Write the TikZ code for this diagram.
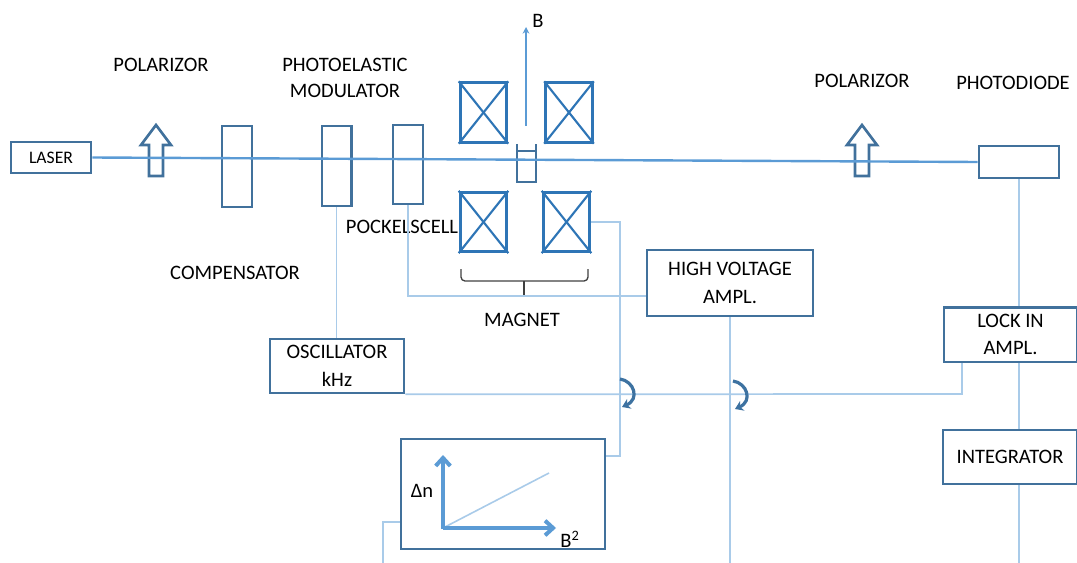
\documentclass[tikz,border=0pt]{standalone}
\usepackage{fontspec}
\setmainfont{Carlito}
\usepackage{tikz}
\usetikzlibrary{arrows.meta}

\definecolor{boxblue}{HTML}{41719C}
\definecolor{coilblue}{HTML}{2E75B6}
\definecolor{beamblue}{HTML}{5B9BD5}
\definecolor{wireblue}{HTML}{A9CBE9}

\tikzset{
    polarizor/.pic={
        \draw [boxblue,line width=2pt,line join=miter]
            (-7,51) -- (-7,20) -- (-15,20) -- (0,0) -- (15,20) -- (7,20) -- (7,51) -- cycle;
    },
    swap_hook/.pic={
        \draw [-{Stealth[length=6pt,width=8pt]},boxblue!80!coilblue,line width=2.4pt]
            (0,0) .. controls (14,2) and (20,20) .. (2,28);
    }
}

\begin{document}
\begin{tikzpicture}[x=0.75pt,y=-0.75pt]
\useasboundingbox (0,0) rectangle (1077,563);
\begin{scope}[every node/.style={rectangle,draw=boxblue,line width=2pt,inner sep=0pt,text=black,font=\fontsize{15.4pt}{20.5pt}\selectfont,align=center}]
    \node [minimum width=60pt,minimum height=23pt,font=\fontsize{13.2pt}{15pt}\selectfont] (laser) at (51,157.5) {LASER};
    \node [minimum width=22.5pt,minimum height=60.5pt] (compensator) at (237,166.5) {};
    \node [minimum width=22pt,minimum height=60pt] (pem) at (336.5,166) {};
    \node [minimum width=22.5pt,minimum height=59pt] (pockels) at (408,164.5) {};
    \node [minimum width=60pt,minimum height=24pt] (diode) at (1019,162) {};
    \node [minimum width=124.5pt,minimum height=49.5pt] (hv) at (730,283) {HIGH VOLTAGE\\AMPL.};
    \node [minimum width=100pt,minimum height=41pt] (lockin) at (1010.5,334.5) {LOCK IN\\AMPL.};
    \node [minimum width=100.5pt,minimum height=40.5pt] (integrator) at (1010,457) {INTEGRATOR};
    \node [minimum width=100.5pt,minimum height=40.5pt] (oscillator) at (337,366) {OSCILLATOR\\kHz};
    \node [minimum width=153pt,minimum height=82.5pt] (plot) at (503,494) {};
\end{scope}
\begin{scope}[every node/.style={rectangle,draw=coilblue,line width=2.2pt,inner sep=0pt,minimum width=35pt,minimum height=44.5pt}]
    \node (coil1) at (483.5,112.5) {};
    \node (coil2) at (569,112.5) {};
    \node (coil3) at (483.5,222) {};
    \node (coil4) at (566.5,222) {};
\end{scope}
\foreach \c in {coil1,coil2,coil3,coil4} {
    \draw [coilblue,line width=1.6pt] (\c.north west) -- (\c.south east);
    \draw [coilblue,line width=1.6pt] (\c.north east) -- (\c.south west);
}
% labels
\begin{scope}[every node/.style={inner sep=0pt,align=center,text=black,font=\fontsize{15.4pt}{19.5pt}\selectfont}]
    \node (lab_pol1) at (161,65) {POLARIZOR};
    \node (lab_pem) at (345,78) {PHOTOELASTIC\\MODULATOR};
    \node (lab_comp) at (235,273) {COMPENSATOR};
    \node (lab_pockels) at (402,227) {POCKELSCELL};
    \node (lab_magnet) at (522,320) {MAGNET};
    \node (lab_pol2) at (862,81) {POLARIZOR};
    \node (lab_diode) at (1013,83) {PHOTODIODE};
    \node (lab_b) at (538,21) {B};
    \node (lab_dn) at (422,491) {Δn};
    \node (lab_b2) at (570,539) {B\textsuperscript{2}};
\end{scope}
% optical parts
\pic at (156,125) {polarizor};
\pic at (862,125) {polarizor};
\coordinate (b_start) at (526,126);
\coordinate (b_end) at (526,27);
\draw [boxblue,line width=1.7pt] (517,144) -- (517,182) -- (536,182) -- (536,144);
\draw [boxblue,line width=1.4pt] (517,151) -- (536,151);
\draw [-{Stealth[length=5pt,width=5pt]},beamblue,line width=1.2pt] (b_start) -- (b_end);
\draw [beamblue,line width=1.8pt] (laser.east) -- (diode.west);
% brace under the magnet
\draw [black!75,line width=1pt,rounded corners=3pt]
    (461,269) -- (461,281) -- (588,281) -- (588,269);
\draw [black!75,line width=1pt] (524,281) -- (524,295);
% wires
\begin{scope}[wireblue,line width=1.3pt]
    \draw (pem.south) -- (oscillator.north -| pem.south);
    \draw (pockels.south) |- (hv.west |- 0,296);
    \draw (coil4.east) -| (620,456) -- (plot.east |- 0,456);
    \draw (oscillator.south east) -- (962,394) -- (lockin.south -| 962,0);
    \coordinate (diode_end) at (1019,563);
    \coordinate (hv_end) at (730,563);
    \coordinate (plot_end) at (383,563);
    \draw (diode.south) -- (lockin.north -| diode.south);
    \draw (lockin.south -| diode.south) -- (integrator.north -| diode.south);
    \draw (integrator.south -| diode.south) -- (diode_end);
    \draw (hv.south) -- (hv_end);
    \draw (plot.west |- 0,522) -| (plot_end);
\end{scope}
\pic at (620,379) {swap_hook};
\pic at (733,381) {swap_hook};
% plot axes
\coordinate (origin) at (443,528);
\coordinate (axis_y) at (443,455);
\coordinate (axis_x) at (556,528);
\coordinate (trend) at (549,473);
\draw [wireblue,line width=1.2pt] (origin) -- (trend);
\draw [-{Straight Barb[length=6pt,width=11pt]},beamblue,line width=3pt] (443,529) -- (axis_y);
\draw [-{Straight Barb[length=6pt,width=11pt]},beamblue,line width=3pt] (origin) -- (axis_x);
\end{tikzpicture}
\end{document}
